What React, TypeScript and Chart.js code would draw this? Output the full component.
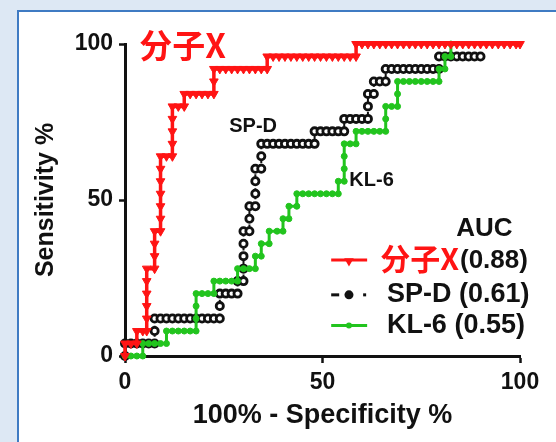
import React, { useEffect, useRef } from "react";
import { Chart, registerables } from "chart.js";
Chart.register(...registerables);

// ---------- data ----------
const xTitle = "100% - Specificity %";
const yTitle = "Sensitivity %";
const tickStep = 50;
const axisMin = 0;
const axisMax = 100;

const seriesNames = ["分子X", "SP-D", "KL-6"];
const aucLabels = ["(0.88)", "(0.61)", "(0.55)"];
const aucTitle = "AUC";

// 分子X (red)
const redX = [0, 0, 1.5, 3, 3, 4.5, 5.5, 5.5, 5.5, 5.5, 5.5, 5.5, 7.5, 7.5, 7.5, 7.5, 9, 9, 9, 9, 9, 9, 9, 10.5, 12, 12, 12, 12, 12, 13.5, 15, 15, 16.5, 18, 19.5, 21, 22.5, 22.5, 22.5, 24, 25.5, 27, 28.5, 30, 31.5, 33, 34.5, 36, 36, 37.5, 39, 40.5, 42, 43.5, 45, 46.5, 48, 49.5, 51, 52.5, 54, 55.5, 57, 58.5, 58.5, 60, 61.5, 63, 64.5, 66, 67.5, 69, 70.5, 72, 73.5, 75, 76.5, 78, 79.5, 81, 82.5, 84, 85.5, 87, 88.5, 90, 91.5, 93, 94.5, 96, 97.5, 99, 100];
const redY = [0, 4, 4, 4, 8, 8, 8, 12, 16, 20, 24, 28, 28, 32, 36, 40, 40, 44, 48, 52, 56, 60, 64, 64, 64, 68, 72, 76, 80, 80, 80, 84, 84, 84, 84, 84, 84, 88, 92, 92, 92, 92, 92, 92, 92, 92, 92, 92, 96, 96, 96, 96, 96, 96, 96, 96, 96, 96, 96, 96, 96, 96, 96, 96, 100, 100, 100, 100, 100, 100, 100, 100, 100, 100, 100, 100, 100, 100, 100, 100, 100, 100, 100, 100, 100, 100, 100, 100, 100, 100, 100, 100, 100];

// SP-D (black)
const spdX = [0, 0, 1.5, 3, 4.5, 6, 7.5, 7.5, 7.5, 9, 10.5, 12, 13.5, 15, 16.5, 18, 19.5, 21, 22.5, 24, 24, 24, 25.5, 27, 28.5, 28.5, 30, 30, 30, 30, 30, 31.5, 31.5, 31.5, 33, 33, 33, 33, 34.5, 34.5, 34.5, 36, 37.5, 39, 40.5, 42, 43.5, 45, 46.5, 48, 48, 49.5, 51, 52.5, 54, 55.5, 55.5, 57, 58.5, 60, 61.5, 61.5, 61.5, 63, 63, 64.5, 66, 66, 67.5, 69, 70.5, 72, 73.5, 75, 76.5, 78, 79.5, 79.5, 81, 82.5, 84, 85.5, 87, 88.5, 90];
const spdY = [0, 4, 4, 4, 4, 4, 4, 8, 12, 12, 12, 12, 12, 12, 12, 12, 12, 12, 12, 12, 16, 20, 20, 20, 20, 24, 24, 28, 32, 36, 40, 40, 44, 48, 48, 52, 56, 60, 60, 64, 68, 68, 68, 68, 68, 68, 68, 68, 68, 68, 72, 72, 72, 72, 72, 72, 76, 76, 76, 76, 76, 80, 84, 84, 88, 88, 88, 92, 92, 92, 92, 92, 92, 92, 92, 92, 92, 96, 96, 96, 96, 96, 96, 96, 96];

// KL-6 (green)
const klX = [0, 1.5, 3, 4.5, 4.5, 6, 7.5, 9, 10.5, 10.5, 12, 13.5, 15, 16.5, 18, 18, 18, 18, 19.5, 21, 22.5, 22.5, 24, 25.5, 27, 28.5, 28.5, 30, 31.5, 33, 33, 34.5, 34.5, 36.5, 36.5, 38.5, 40, 40, 41.5, 41.5, 43.5, 43.5, 45, 46.5, 48, 49.5, 51, 52.5, 54, 54, 55.5, 55.5, 55.5, 55.5, 57, 58.5, 58.5, 60, 61.5, 63, 64.5, 66, 66, 66, 67.5, 69, 69, 69, 70.5, 72, 73.5, 75, 76.5, 78, 79.5, 79.5, 81, 81, 82.5, 82.5];
const klY = [0, 0, 0, 0, 4, 4, 4, 4, 4, 8, 8, 8, 8, 8, 8, 12, 16, 20, 20, 20, 20, 24, 24, 24, 24, 24, 28, 28, 28, 28, 32, 32, 36, 36, 40, 40, 40, 44, 44, 48, 48, 52, 52, 52, 52, 52, 52, 52, 52, 56, 56, 60, 64, 68, 68, 68, 72, 72, 72, 72, 72, 72, 76, 80, 80, 80, 84, 88, 88, 88, 88, 88, 88, 88, 88, 92, 92, 96, 96, 100];

// ---------- styles ----------
const RED = "#ff1414";
const GREEN = "#22c41e";
const BLACK = "#111111";
const FONT = "'Liberation Sans', Arial, sans-serif";
const CJK = "'Noto Sans CJK SC', 'Noto Sans CJK JP', sans-serif";

function pts(xs: number[], ys: number[]) {
  return xs.map((x, i) => ({ x, y: ys[i] }));
}

function drawTriangleDown(ctx: CanvasRenderingContext2D, cx: number, cy: number, r: number, color: string) {
  ctx.beginPath();
  ctx.moveTo(cx, cy + r);
  ctx.lineTo(cx - r * 0.866, cy - r / 2);
  ctx.lineTo(cx + r * 0.866, cy - r / 2);
  ctx.closePath();
  ctx.fillStyle = color;
  ctx.fill();
}

const annotPlugin = {
  id: "annot",
  afterDraw(chart: any) {
    const ctx: CanvasRenderingContext2D = chart.ctx;
    const xs = chart.scales.x;
    const ys = chart.scales.y;
    const px = (v: number) => xs.getPixelForValue(v);
    const py = (v: number) => ys.getPixelForValue(v);
    ctx.save();
    ctx.textBaseline = "middle";
    ctx.textAlign = "left";

    // big red title
    ctx.fillStyle = RED;
    ctx.font = `bold 33px ${CJK}`;
    ctx.fillText(seriesNames[0], px(3.6), py(99.5));

    // inline curve labels
    ctx.fillStyle = BLACK;
    ctx.font = `bold 20px ${FONT}`;
    ctx.fillText(seriesNames[1], px(26.4), py(73.6));
    ctx.fillText(seriesNames[2], px(56.8), py(56.4));

    // legend
    ctx.font = `bold 26px ${FONT}`;
    ctx.textAlign = "center";
    ctx.fillText(aucTitle, px(91), py(40.7));
    ctx.textAlign = "left";

    const lx1 = px(52.2), lx2 = px(61.3), lm = px(56.7);
    const rowY = [py(30.8), py(19.6), py(9.8)];

    // row 1 (red)
    ctx.strokeStyle = RED;
    ctx.lineWidth = 3;
    ctx.beginPath();
    ctx.moveTo(lx1, rowY[0]);
    ctx.lineTo(lx2, rowY[0]);
    ctx.stroke();
    drawTriangleDown(ctx, lm, rowY[0] + 1, 5.5, RED);
    ctx.fillStyle = RED;
    ctx.font = `bold 30px ${CJK}`;
    const tx = px(64.6);
    ctx.fillText(seriesNames[0], tx, rowY[0] - 1);
    const w0 = ctx.measureText(seriesNames[0]).width;
    ctx.fillStyle = BLACK;
    ctx.font = `bold 26px ${FONT}`;
    ctx.fillText(aucLabels[0], tx + w0 + 1, rowY[0] + 1);

    // row 2 (black dashed)
    ctx.fillStyle = BLACK;
    ctx.fillRect(lx1, rowY[1] - 1.5, 8, 3);
    ctx.beginPath();
    ctx.arc(lm, rowY[1], 4.5, 0, Math.PI * 2);
    ctx.fill();
    ctx.fillRect(lx2 - 4, rowY[1] - 1.5, 3, 3);
    ctx.font = `bold 27px ${FONT}`;
    ctx.fillText(`${seriesNames[1]} ${aucLabels[1]}`, px(66.3), rowY[1]);

    // row 3 (green)
    ctx.strokeStyle = GREEN;
    ctx.lineWidth = 3;
    ctx.beginPath();
    ctx.moveTo(lx1, rowY[2]);
    ctx.lineTo(lx2, rowY[2]);
    ctx.stroke();
    ctx.fillStyle = GREEN;
    ctx.beginPath();
    ctx.arc(lm, rowY[2], 3, 0, Math.PI * 2);
    ctx.fill();
    ctx.fillStyle = BLACK;
    ctx.font = `bold 27px ${FONT}`;
    ctx.fillText(`${seriesNames[2]} ${aucLabels[2]}`, px(66.3), rowY[2]);

    ctx.restore();
  },
};

export default function App() {
  const ref = useRef<HTMLCanvasElement | null>(null);
  useEffect(() => {
    if (!ref.current) return;
    const chart = new Chart(ref.current, {
      type: "scatter",
      data: {
        datasets: [
          {
            label: seriesNames[0],
            data: pts(redX, redY),
            showLine: true,
            borderColor: RED,
            borderWidth: 3.5,
            pointStyle: "triangle",
            rotation: 180,
            pointRadius: 5,
            pointBackgroundColor: RED,
            pointBorderColor: RED,
            pointBorderWidth: 1,
            clip: false,
          } as any,
          {
            label: seriesNames[2],
            data: pts(klX, klY),
            showLine: true,
            borderColor: GREEN,
            borderWidth: 3,
            pointStyle: "circle",
            pointRadius: 3,
            pointBackgroundColor: GREEN,
            pointBorderColor: GREEN,
            pointBorderWidth: 1,
            clip: false,
          } as any,
          {
            label: seriesNames[1],
            data: pts(spdX, spdY),
            showLine: true,
            borderColor: BLACK,
            borderWidth: 2,
            borderDash: [4, 3],
            pointStyle: "circle",
            pointRadius: 3.6,
            pointBackgroundColor: "#ffffff",
            pointBorderColor: BLACK,
            pointBorderWidth: 2.8,
            clip: false,
          } as any,
        ],
      },
      options: {
        responsive: false,
        animation: false,
        devicePixelRatio: 1,
        layout: { padding: { left: 0, top: 44, right: 36, bottom: 0 } },
        plugins: { legend: { display: false }, tooltip: { enabled: false } },
        scales: {
          x: {
            type: "linear",
            min: axisMin,
            max: axisMax,
            afterFit: (s: any) => {
              s.height = 86;
            },
            ticks: {
              stepSize: tickStep,
              color: BLACK,
              padding: 6,
              font: { family: FONT, size: 23, weight: "bold" },
            },
            grid: {
              drawOnChartArea: false,
              drawTicks: true,
              tickLength: 7,
              tickWidth: 2.5,
              tickColor: BLACK,
              color: BLACK,
            },
            border: { display: true, width: 3, color: BLACK },
            title: {
              display: true,
              text: xTitle,
              color: BLACK,
              font: { family: FONT, size: 27, weight: "bold" },
              padding: { top: 0, bottom: 10 },
            },
          },
          y: {
            type: "linear",
            min: axisMin,
            max: axisMax,
            afterFit: (s: any) => {
              s.width = 125;
            },
            ticks: {
              stepSize: tickStep,
              color: BLACK,
              padding: 6,
              font: { family: FONT, size: 23, weight: "bold" },
            },
            grid: {
              drawOnChartArea: false,
              drawTicks: true,
              tickLength: 6,
              tickWidth: 2.5,
              tickColor: BLACK,
              color: BLACK,
            },
            border: { display: true, width: 3, color: BLACK },
            title: {
              display: true,
              text: yTitle,
              color: BLACK,
              font: { family: FONT, size: 25, weight: "bold" },
              padding: { top: 31, bottom: 0 },
            },
          },
        },
      } as any,
      plugins: [annotPlugin],
    });
    return () => chart.destroy();
  }, []);

  return (
    <div style={{ position: "fixed", left: 0, top: 0, width: 556, height: 442, background: "#dde8f4", overflow: "hidden" }}>
      <div
        style={{
          position: "absolute",
          left: 17,
          top: 10,
          width: 600,
          height: 500,
          border: "2px solid #3f7bc3",
          background: "#ffffff",
        }}
      />
      <canvas ref={ref} width={556} height={442} style={{ position: "absolute", left: 0, top: 0 }} />
    </div>
  );
}
